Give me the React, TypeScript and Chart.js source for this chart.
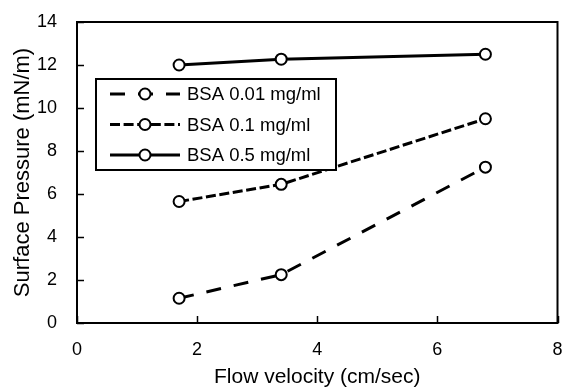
import React, { useEffect, useRef } from "react";
import { Chart, registerables } from "chart.js";

Chart.register(...registerables);

const flowVelocity = [1.7, 3.4, 6.8];
const bsa001 = [1.15, 2.25, 7.25];
const bsa01 = [5.65, 6.45, 9.5];
const bsa05 = [12.0, 12.27, 12.5];
const seriesLabels = ["BSA 0.01 mg/ml", "BSA 0.1 mg/ml", "BSA 0.5 mg/ml"];
const seriesDashes = [[15, 13], [10, 3.6], []];
const xTickValues = [0, 2, 4, 6, 8];
const yTickValues = [0, 2, 4, 6, 8, 10, 12, 14];
const xTitle = "Flow velocity (cm/sec)";
const yTitle = "Surface Pressure (mN/m)";

const FONT = "'Liberation Sans', Arial, sans-serif";

const framePlugin = {
  id: "frame",
  afterDatasetsDraw(chart: any) {
    const { ctx, chartArea, scales } = chart;
    const { left, right, top, bottom } = chartArea;
    ctx.save();
    ctx.strokeStyle = "#000";
    ctx.lineWidth = 2;
    ctx.setLineDash([]);
    ctx.strokeRect(left, top, right - left, bottom - top);
    // inside ticks
    ctx.lineWidth = 1.5;
    ctx.beginPath();
    for (const v of yTickValues) {
      const y = Math.round(scales.y.getPixelForValue(v)) + 0.5;
      ctx.moveTo(left, y);
      ctx.lineTo(left + 7, y);
    }
    for (const v of xTickValues) {
      const x = Math.round(scales.x.getPixelForValue(v)) + 0.5;
      ctx.moveTo(x, bottom);
      ctx.lineTo(x, bottom - 7);
    }
    ctx.stroke();

    // legend
    const lx = 96, ly = 79, lw = 240, lh = 91;
    ctx.fillStyle = "#fff";
    ctx.fillRect(lx, ly, lw, lh);
    ctx.lineWidth = 2;
    ctx.strokeRect(lx, ly, lw, lh);
    const rows = [94, 124.5, 155];
    seriesLabels.forEach((label, i) => {
      const y = rows[i];
      ctx.beginPath();
      ctx.lineWidth = 3;
      ctx.strokeStyle = "#000";
      ctx.setLineDash(seriesDashes[i]);
      ctx.moveTo(110, y);
      ctx.lineTo(180, y);
      ctx.stroke();
      ctx.setLineDash([]);
      ctx.beginPath();
      ctx.arc(145, y, 5.5, 0, Math.PI * 2);
      ctx.fillStyle = "#fff";
      ctx.fill();
      ctx.lineWidth = 2;
      ctx.stroke();
      ctx.fillStyle = "#000";
      ctx.font = `18.5px ${FONT}`;
      ctx.textBaseline = "middle";
      ctx.textAlign = "left";
      ctx.fillText(label, 187, y + 1);
    });
    ctx.restore();
  },
};

export default function App() {
  const ref = useRef<HTMLCanvasElement | null>(null);
  useEffect(() => {
    if (!ref.current) return;
    const series = [bsa001, bsa01, bsa05];
    const chart = new Chart(ref.current, {
      type: "scatter",
      data: {
        datasets: series.map((vals, i) => ({
          label: seriesLabels[i],
          data: flowVelocity.map((x, j) => ({ x, y: vals[j] })),
          showLine: true,
          borderColor: "#000",
          borderWidth: 3,
          borderDash: seriesDashes[i],
          pointRadius: 5.5,
          pointBorderWidth: 2,
          pointBackgroundColor: "#fff",
          pointBorderColor: "#000",
          clip: false as any,
        })),
      },
      options: {
        animation: false,
        responsive: false,
        layout: { padding: { top: 22, right: 7, left: 0, bottom: 0 } },
        plugins: { legend: { display: false }, tooltip: { enabled: false } },
        scales: {
          x: {
            type: "linear",
            min: 0,
            max: 8,
            afterBuildTicks: (s: any) => {
              s.ticks = xTickValues.map((v) => ({ value: v }));
            },
            afterFit: (s: any) => {
              s.height = 67;
              s.paddingLeft = 0;
              s.paddingRight = 0;
            },
            grid: { display: false, drawTicks: false },
            border: { display: false },
            ticks: { color: "#000", font: { family: FONT, size: 18 }, padding: 16 },
            title: {
              display: true,
              text: xTitle,
              color: "#000",
              font: { family: FONT, size: 21 },
              padding: { top: 0, bottom: 0 },
            },
          },
          y: {
            type: "linear",
            min: 0,
            max: 14,
            afterBuildTicks: (s: any) => {
              s.ticks = yTickValues.map((v) => ({ value: v }));
            },
            afterFit: (s: any) => {
              s.width = 77;
              s.paddingTop = 0;
              s.paddingBottom = 0;
            },
            grid: { display: false, drawTicks: false },
            border: { display: false },
            ticks: { color: "#000", font: { family: FONT, size: 18 }, padding: 20 },
            title: {
              display: true,
              text: yTitle,
              color: "#000",
              font: { family: FONT, size: 22 },
              padding: { top: 10, bottom: 0 },
            },
          },
        },
      },
      plugins: [framePlugin],
    });
    return () => chart.destroy();
  }, []);
  return (
    <div style={{ position: "fixed", left: 0, top: 0, width: 565, height: 390, background: "#fff" }}>
      <canvas ref={ref} width={565} height={390} style={{ width: 565, height: 390 }} />
    </div>
  );
}
